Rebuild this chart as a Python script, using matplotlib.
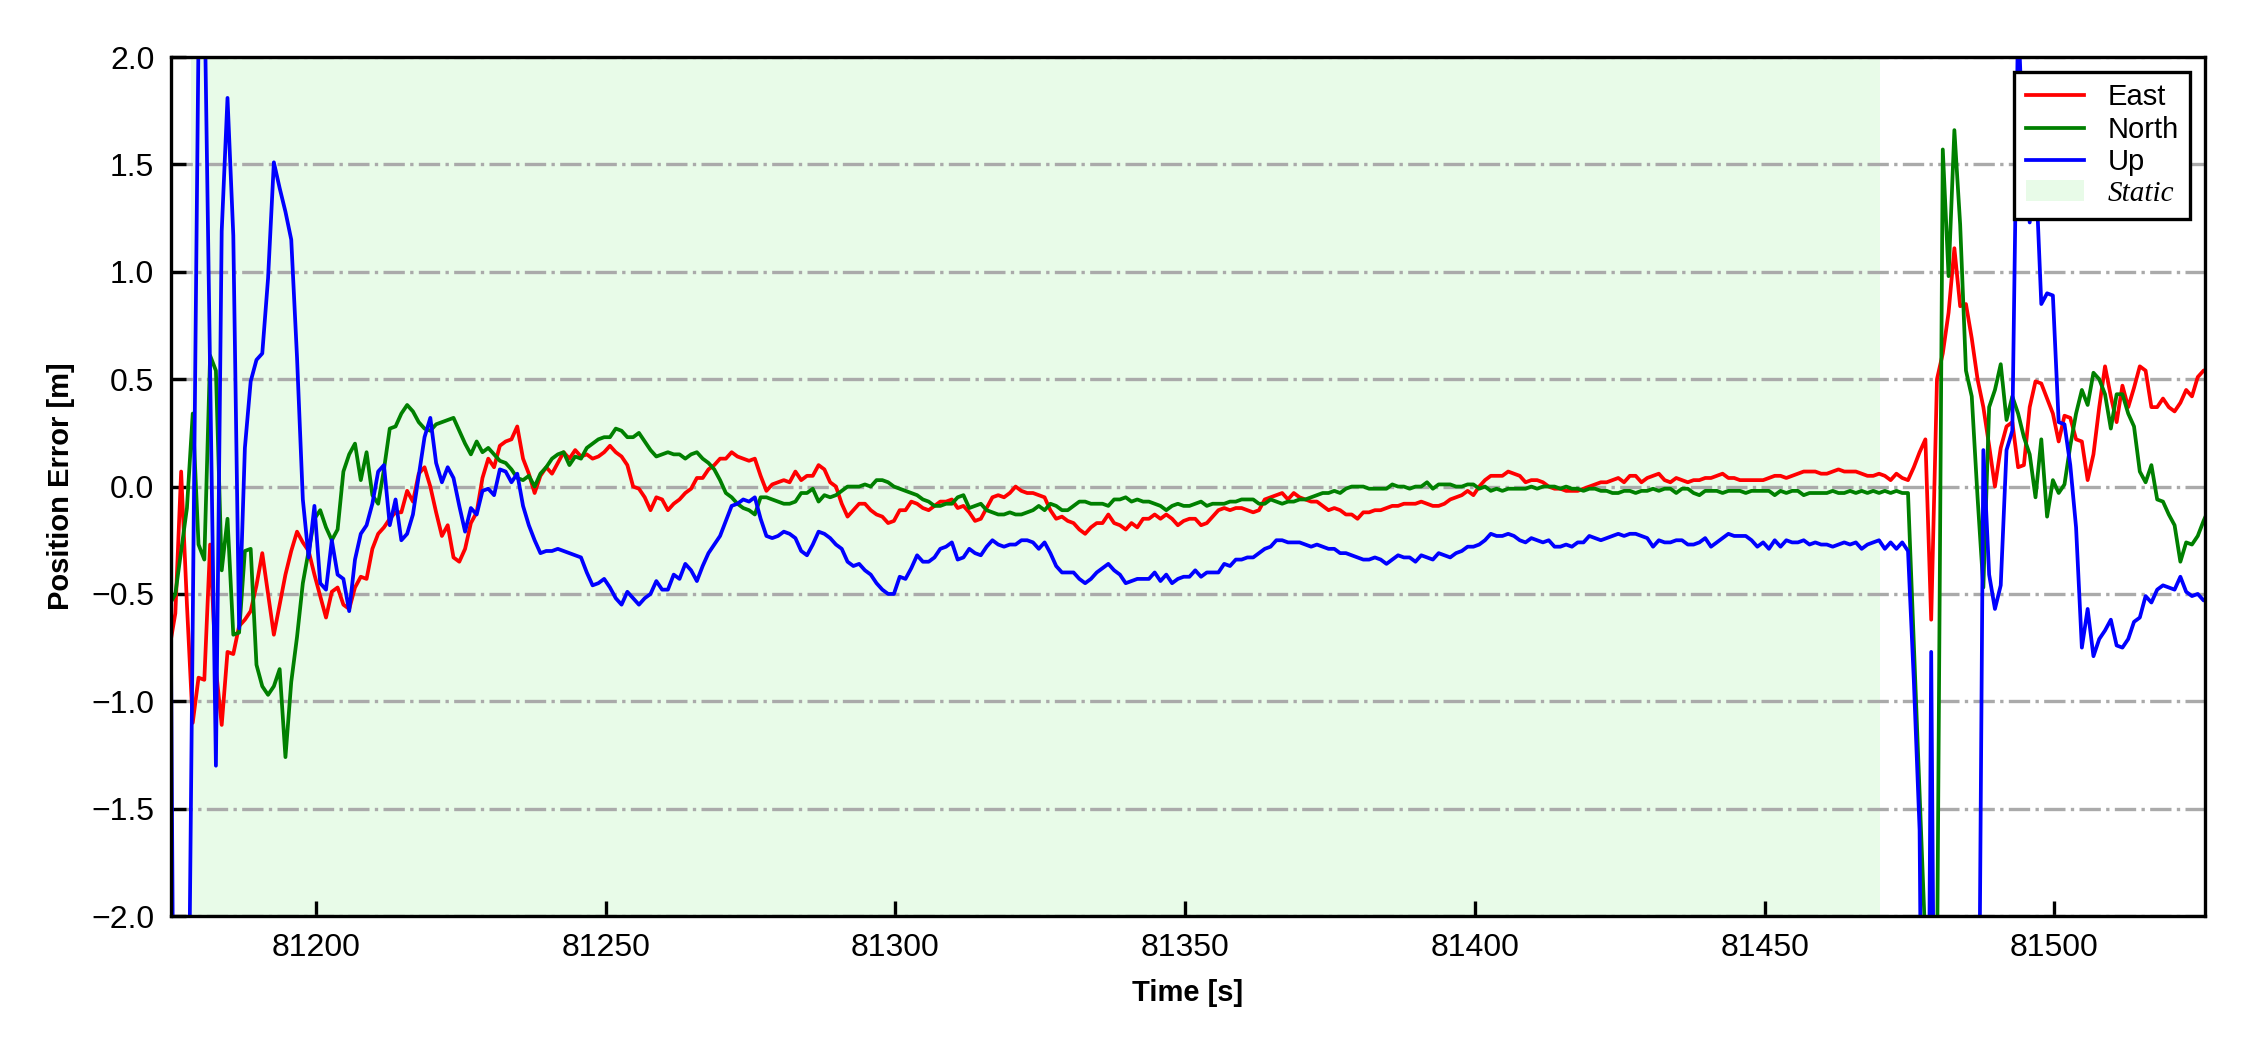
import numpy as np
import matplotlib
matplotlib.use("Agg")
import matplotlib.pyplot as plt

# ---------------- data ----------------
t_start = 81174.75   # time of first sample [s]
t_step = 1.0         # sampling interval [s]

east = [
    -0.75, -0.59, 0.07, -0.55, -1.10, -0.89, -0.90, -0.27, -0.85, -1.11,
    -0.77, -0.78, -0.65, -0.62, -0.58, -0.46, -0.31, -0.50, -0.69, -0.55,
    -0.41, -0.30, -0.21, -0.26, -0.30, -0.41, -0.51, -0.61, -0.49, -0.47,
    -0.55, -0.57, -0.47, -0.42, -0.43, -0.29, -0.22, -0.19, -0.15, -0.12,
    -0.12, -0.02, -0.07, 0.06, 0.09, 0.00, -0.12, -0.23, -0.18, -0.33,
    -0.35, -0.29, -0.17, -0.12, 0.04, 0.13, 0.09, 0.19, 0.21, 0.22,
    0.28, 0.13, 0.06, -0.03, 0.05, 0.09, 0.06, 0.11, 0.16, 0.13,
    0.17, 0.14, 0.15, 0.13, 0.14, 0.16, 0.19, 0.16, 0.14, 0.10,
    0.00, -0.01, -0.05, -0.11, -0.05, -0.06, -0.11, -0.08, -0.06, -0.03,
    -0.01, 0.04, 0.04, 0.08, 0.10, 0.13, 0.13, 0.16, 0.14, 0.13,
    0.12, 0.13, 0.05, -0.02, 0.01, 0.02, 0.03, 0.02, 0.07, 0.03,
    0.05, 0.05, 0.10, 0.08, 0.02, 0.00, -0.08, -0.14, -0.11, -0.08,
    -0.08, -0.11, -0.13, -0.14, -0.17, -0.16, -0.11, -0.11, -0.07, -0.08,
    -0.10, -0.11, -0.09, -0.07, -0.07, -0.06, -0.10, -0.09, -0.12, -0.16,
    -0.15, -0.10, -0.05, -0.04, -0.05, -0.03, 0.00, -0.02, -0.03, -0.03,
    -0.04, -0.05, -0.11, -0.15, -0.14, -0.16, -0.17, -0.20, -0.22, -0.19,
    -0.17, -0.17, -0.13, -0.17, -0.18, -0.20, -0.17, -0.19, -0.15, -0.15,
    -0.13, -0.15, -0.13, -0.15, -0.18, -0.16, -0.15, -0.15, -0.18, -0.17,
    -0.14, -0.11, -0.10, -0.11, -0.10, -0.10, -0.11, -0.12, -0.11, -0.06,
    -0.05, -0.04, -0.03, -0.06, -0.03, -0.05, -0.06, -0.07, -0.07, -0.09,
    -0.11, -0.10, -0.11, -0.13, -0.13, -0.15, -0.12, -0.12, -0.11, -0.11,
    -0.10, -0.09, -0.09, -0.08, -0.08, -0.08, -0.07, -0.08, -0.09, -0.09,
    -0.08, -0.06, -0.05, -0.04, -0.02, -0.04, 0.00, 0.03, 0.05, 0.05,
    0.05, 0.07, 0.06, 0.05, 0.02, 0.03, 0.03, 0.02, 0.00, -0.01,
    -0.01, -0.02, -0.02, -0.02, -0.01, 0.00, 0.01, 0.02, 0.02, 0.03,
    0.04, 0.02, 0.05, 0.05, 0.02, 0.04, 0.05, 0.06, 0.03, 0.02,
    0.04, 0.03, 0.02, 0.03, 0.03, 0.04, 0.04, 0.05, 0.06, 0.04,
    0.04, 0.03, 0.03, 0.03, 0.03, 0.03, 0.04, 0.05, 0.05, 0.04,
    0.05, 0.06, 0.07, 0.07, 0.07, 0.06, 0.06, 0.07, 0.08, 0.07,
    0.07, 0.07, 0.06, 0.05, 0.05, 0.06, 0.05, 0.03, 0.06, 0.04,
    0.03, 0.09, 0.16, 0.22, -0.62, 0.50, 0.62, 0.81, 1.11, 0.84,
    0.85, 0.69, 0.50, 0.37, 0.19, 0.00, 0.18, 0.28, 0.30, 0.09,
    0.10, 0.37, 0.49, 0.48, 0.41, 0.34, 0.21, 0.33, 0.32, 0.22,
    0.21, 0.03, 0.15, 0.37, 0.56, 0.42, 0.30, 0.47, 0.37, 0.46,
    0.56, 0.54, 0.37, 0.37, 0.41, 0.37, 0.35, 0.39, 0.45, 0.42,
    0.51, 0.54, 0.55,
]

north = [
    -0.55, -0.50, -0.30, -0.10, 0.34, -0.27, -0.34, 0.61, 0.54, -0.39,
    -0.15, -0.69, -0.68, -0.30, -0.29, -0.83, -0.93, -0.97, -0.93, -0.85,
    -1.26, -0.91, -0.70, -0.45, -0.30, -0.15, -0.11, -0.19, -0.25, -0.20,
    0.07, 0.15, 0.20, 0.03, 0.16, -0.04, -0.08, 0.08, 0.27, 0.28,
    0.34, 0.38, 0.35, 0.30, 0.27, 0.26, 0.29, 0.30, 0.31, 0.32,
    0.26, 0.20, 0.15, 0.21, 0.16, 0.18, 0.15, 0.12, 0.11, 0.08,
    0.04, 0.03, 0.05, 0.00, 0.06, 0.09, 0.13, 0.15, 0.16, 0.10,
    0.14, 0.13, 0.18, 0.20, 0.22, 0.23, 0.23, 0.27, 0.26, 0.23,
    0.23, 0.25, 0.21, 0.17, 0.14, 0.15, 0.16, 0.15, 0.15, 0.13,
    0.15, 0.16, 0.13, 0.11, 0.08, 0.03, -0.03, -0.05, -0.08, -0.10,
    -0.11, -0.13, -0.05, -0.05, -0.06, -0.07, -0.08, -0.08, -0.07, -0.03,
    -0.03, -0.01, -0.07, -0.04, -0.05, -0.04, -0.02, 0.00, 0.00, 0.00,
    0.01, 0.00, 0.03, 0.03, 0.02, 0.00, -0.01, -0.02, -0.03, -0.04,
    -0.06, -0.07, -0.09, -0.09, -0.08, -0.08, -0.05, -0.04, -0.10, -0.09,
    -0.08, -0.11, -0.12, -0.13, -0.13, -0.12, -0.13, -0.13, -0.12, -0.11,
    -0.09, -0.11, -0.08, -0.09, -0.11, -0.11, -0.09, -0.07, -0.07, -0.08,
    -0.08, -0.08, -0.09, -0.06, -0.06, -0.05, -0.07, -0.06, -0.07, -0.07,
    -0.08, -0.09, -0.11, -0.09, -0.08, -0.09, -0.09, -0.08, -0.07, -0.09,
    -0.08, -0.08, -0.08, -0.07, -0.07, -0.06, -0.06, -0.06, -0.08, -0.08,
    -0.06, -0.07, -0.08, -0.07, -0.07, -0.06, -0.06, -0.05, -0.04, -0.03,
    -0.03, -0.02, -0.03, -0.01, 0.00, 0.00, 0.00, -0.01, -0.01, -0.01,
    -0.01, 0.01, 0.00, 0.00, -0.01, 0.00, 0.00, 0.02, -0.01, 0.01,
    0.01, 0.01, 0.00, 0.00, 0.01, 0.01, -0.01, 0.00, -0.02, -0.01,
    -0.02, -0.01, -0.01, -0.01, -0.01, 0.00, -0.01, 0.00, 0.00, 0.00,
    -0.01, 0.00, -0.01, -0.01, -0.02, -0.01, -0.01, -0.02, -0.02, -0.03,
    -0.03, -0.02, -0.02, -0.03, -0.02, -0.02, -0.01, -0.02, -0.01, -0.01,
    -0.03, -0.01, -0.01, -0.03, -0.04, -0.02, -0.02, -0.02, -0.03, -0.02,
    -0.02, -0.02, -0.03, -0.02, -0.02, -0.02, -0.02, -0.04, -0.02, -0.03,
    -0.02, -0.02, -0.04, -0.03, -0.03, -0.03, -0.03, -0.02, -0.03, -0.03,
    -0.02, -0.03, -0.02, -0.03, -0.02, -0.03, -0.02, -0.03, -0.02, -0.03,
    -0.03, -0.73, -1.43, -2.13, -3.00, -2.30, 1.57, 0.98, 1.66, 1.22,
    0.54, 0.42, -0.05, -0.47, 0.37, 0.45, 0.57, 0.31, 0.42, 0.34,
    0.23, 0.15, -0.05, 0.22, -0.14, 0.03, -0.03, 0.01, 0.19, 0.34,
    0.45, 0.38, 0.53, 0.50, 0.43, 0.27, 0.43, 0.43, 0.34, 0.28,
    0.07, 0.02, 0.10, -0.06, -0.07, -0.13, -0.18, -0.35, -0.26, -0.27,
    -0.23, -0.16, -0.10,
]

up = [
    0.30, -4.00, -5.00, -3.37, -0.63, 2.10, 2.36, 0.53, -1.30, 1.19,
    1.81, 1.17, -0.66, 0.18, 0.49, 0.59, 0.62, 0.97, 1.51, 1.39,
    1.28, 1.15, 0.60, -0.06, -0.33, -0.09, -0.45, -0.48, -0.25, -0.41,
    -0.43, -0.58, -0.34, -0.22, -0.18, -0.08, 0.07, 0.10, -0.18, -0.06,
    -0.25, -0.22, -0.13, 0.05, 0.23, 0.32, 0.11, 0.02, 0.09, 0.04,
    -0.09, -0.21, -0.10, -0.13, -0.02, -0.01, -0.04, 0.08, 0.07, 0.02,
    0.06, -0.09, -0.18, -0.25, -0.31, -0.30, -0.30, -0.29, -0.30, -0.31,
    -0.32, -0.33, -0.40, -0.46, -0.45, -0.43, -0.47, -0.52, -0.55, -0.49,
    -0.52, -0.55, -0.52, -0.50, -0.44, -0.48, -0.48, -0.41, -0.43, -0.36,
    -0.39, -0.44, -0.37, -0.31, -0.27, -0.23, -0.16, -0.09, -0.08, -0.06,
    -0.07, -0.05, -0.15, -0.23, -0.24, -0.23, -0.21, -0.22, -0.24, -0.30,
    -0.32, -0.27, -0.21, -0.22, -0.24, -0.27, -0.29, -0.35, -0.37, -0.36,
    -0.39, -0.41, -0.45, -0.48, -0.50, -0.50, -0.42, -0.43, -0.38, -0.32,
    -0.35, -0.35, -0.33, -0.29, -0.28, -0.26, -0.34, -0.33, -0.29, -0.31,
    -0.32, -0.28, -0.25, -0.27, -0.28, -0.27, -0.27, -0.25, -0.25, -0.26,
    -0.29, -0.26, -0.31, -0.37, -0.40, -0.40, -0.40, -0.43, -0.45, -0.43,
    -0.40, -0.38, -0.36, -0.39, -0.41, -0.45, -0.44, -0.43, -0.43, -0.43,
    -0.40, -0.44, -0.41, -0.45, -0.43, -0.42, -0.42, -0.39, -0.42, -0.40,
    -0.40, -0.40, -0.36, -0.37, -0.34, -0.34, -0.33, -0.33, -0.31, -0.29,
    -0.28, -0.25, -0.25, -0.26, -0.26, -0.26, -0.27, -0.28, -0.27, -0.28,
    -0.29, -0.29, -0.31, -0.31, -0.32, -0.33, -0.34, -0.34, -0.33, -0.34,
    -0.36, -0.34, -0.32, -0.33, -0.33, -0.35, -0.32, -0.33, -0.34, -0.31,
    -0.32, -0.33, -0.31, -0.30, -0.28, -0.28, -0.27, -0.25, -0.22, -0.23,
    -0.23, -0.22, -0.23, -0.25, -0.26, -0.24, -0.25, -0.26, -0.25, -0.28,
    -0.28, -0.27, -0.28, -0.26, -0.26, -0.23, -0.24, -0.25, -0.24, -0.23,
    -0.22, -0.23, -0.22, -0.22, -0.23, -0.24, -0.28, -0.25, -0.26, -0.26,
    -0.25, -0.25, -0.27, -0.27, -0.26, -0.24, -0.28, -0.26, -0.24, -0.22,
    -0.23, -0.23, -0.23, -0.25, -0.28, -0.26, -0.29, -0.25, -0.28, -0.25,
    -0.26, -0.26, -0.25, -0.27, -0.26, -0.27, -0.27, -0.28, -0.27, -0.26,
    -0.27, -0.26, -0.29, -0.27, -0.26, -0.25, -0.29, -0.26, -0.29, -0.26,
    -0.30, -0.90, -1.60, -5.00, -0.77, -4.50, -4.20, -3.80, -4.10, -3.90,
    -4.00, -3.60, -3.50, 0.17, -0.41, -0.57, -0.46, 0.17, 0.26, 2.20,
    1.50, 1.23, 1.50, 0.85, 0.90, 0.89, 0.30, 0.29, 0.10, -0.19,
    -0.75, -0.57, -0.79, -0.71, -0.67, -0.62, -0.74, -0.75, -0.71, -0.63,
    -0.61, -0.51, -0.54, -0.48, -0.46, -0.47, -0.48, -0.42, -0.49, -0.51,
    -0.50, -0.53, -0.53,
]

static_span = (81178.5, 81470.0)
x_limits = (81175, 81526)
y_limits = (-2.0, 2.0)
x_ticks = [81200, 81250, 81300, 81350, 81400, 81450, 81500]
y_ticks = [-2.0, -1.5, -1.0, -0.5, 0.0, 0.5, 1.0, 1.5, 2.0]
series_labels = ["East", "North", "Up"]
series_colors = ["red", "green", "blue"]
span_label = "Static"

# ---------------- plot ----------------
plt.rcParams["font.family"] = ["Liberation Sans", "DejaVu Sans"]

fig = plt.figure(figsize=(7.5, 3.5), dpi=300)
ax = fig.add_axes([0.076, 0.1276, 0.904, 0.818])

t = t_start + t_step * np.arange(len(east))

span = ax.axvspan(static_span[0], static_span[1], color="lightgreen",
                  alpha=0.2, lw=0, zorder=1)
lines = []
for vals, lab, col in zip([east, north, up], series_labels, series_colors):
    ln, = ax.plot(t, vals, color=col, lw=0.9, label=lab, zorder=2)
    lines.append(ln)

ax.set_xlim(*x_limits)
ax.set_ylim(*y_limits)
ax.set_xticks(x_ticks)
ax.set_yticks(y_ticks)
ax.set_xticklabels([str(v) for v in x_ticks])

ax.set_axisbelow("line")
ax.yaxis.grid(True, linestyle="-.", color="#aaaaaa", lw=0.8, zorder=1.5)

ax.tick_params(direction="in", length=3.5, width=0.8, labelsize=7.7, pad=4,
               top=False, right=False)
for sp in ax.spines.values():
    sp.set_linewidth(0.8)

ax.set_xlabel("Time [s]", fontsize=7, fontweight="bold")
ax.set_ylabel("Position Error [m]", fontsize=7, fontweight="bold")

leg = ax.legend(lines + [span], series_labels + [span_label], loc="upper right",
                fontsize=7, frameon=True, fancybox=False, framealpha=1,
                edgecolor="black", labelspacing=0.15, borderaxespad=0.5,
                handlelength=2.0)
leg.get_frame().set_linewidth(0.8)
st = leg.get_texts()[3]
st.set_fontfamily(["Liberation Serif", "DejaVu Serif"])
st.set_fontstyle("italic")
leg.set_zorder(5)

fig.savefig("out.png", dpi=300)
